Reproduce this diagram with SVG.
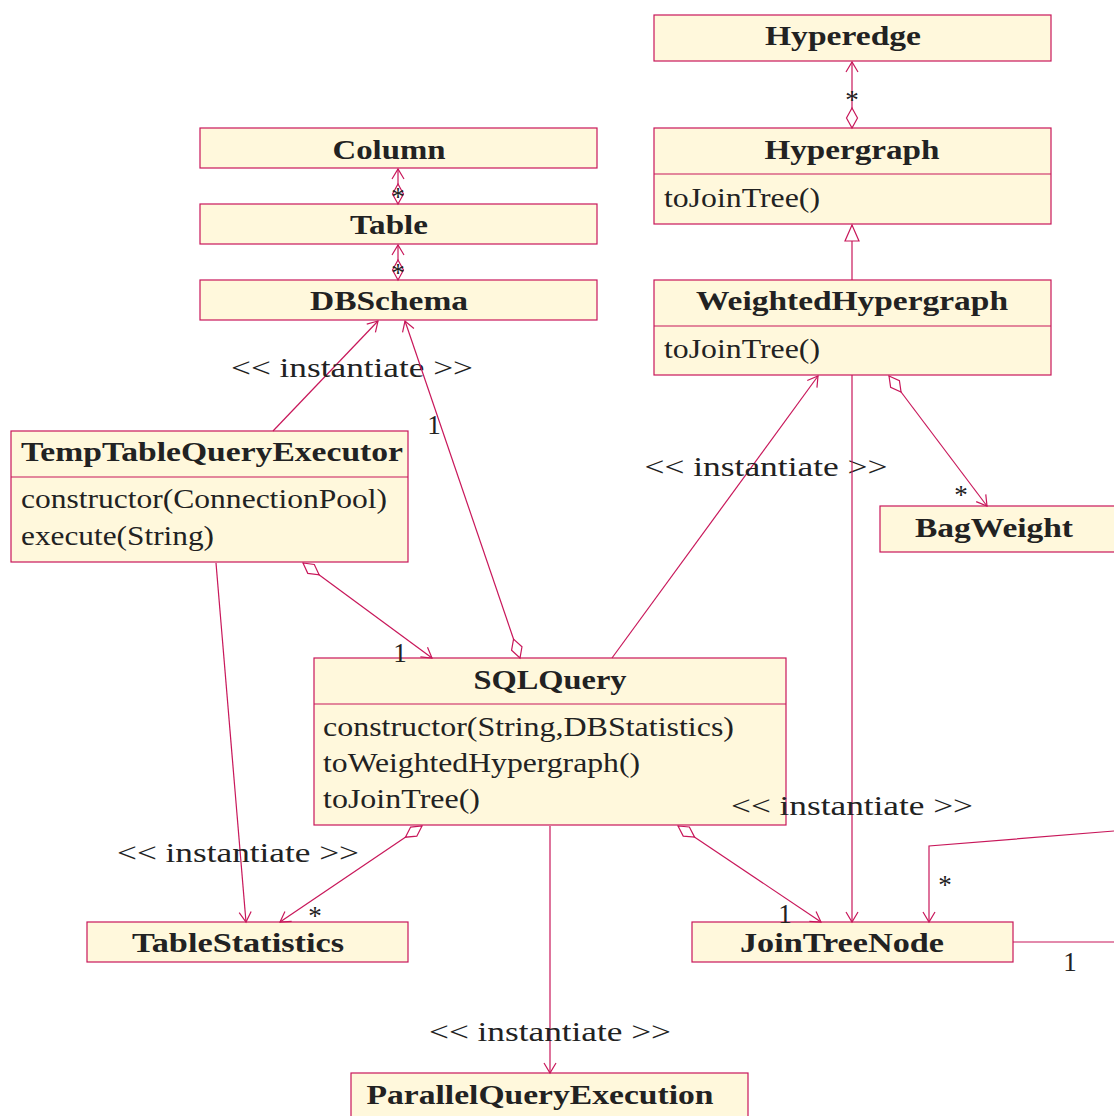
<svg xmlns="http://www.w3.org/2000/svg" width="1114" height="1116" viewBox="0 0 1114 1116">
  <style>
    .box { fill: #fff8dc; stroke: #c8175a; stroke-width: 1.2; }
    .sep { stroke: #c8175a; stroke-width: 1.2; }
    .name { font-family: "Liberation Serif", "DejaVu Serif", serif; font-weight: bold; font-size: 27px; fill: #222; }
    .op { font-family: "Liberation Serif", "DejaVu Serif", serif; font-size: 27px; fill: #222; }
    .lbl { font-family: "Liberation Serif", "DejaVu Serif", serif; font-size: 27px; fill: #222; }
    .edge { fill: none; stroke: #c8175a; stroke-width: 1.2; }
  </style>
  <defs>
    <marker id="open" markerUnits="userSpaceOnUse" markerWidth="24" markerHeight="24" viewBox="-12 -12 24 24" refX="0" refY="0" orient="auto">
      <path d="M-10,-6 L0,0 L-10,6" fill="none" stroke="#c8175a" stroke-width="1.2"/>
    </marker>
    <marker id="diamond" markerUnits="userSpaceOnUse" markerWidth="30" markerHeight="30" viewBox="-5 -15 30 30" refX="0" refY="0" orient="auto">
      <path d="M0,0 L10,-5.5 L20,0 L10,5.5 Z" fill="#fff" stroke="#c8175a" stroke-width="1.2"/>
    </marker>
    <marker id="triangle" markerUnits="userSpaceOnUse" markerWidth="30" markerHeight="30" viewBox="-20 -15 30 30" refX="0" refY="0" orient="auto">
      <path d="M0,0 L-16,-7 L-16,7 Z" fill="#fff" stroke="#c8175a" stroke-width="1.2"/>
    </marker>
  </defs>

  <!-- classes -->
  <g id="Hyperedge">
    <rect class="box" x="654" y="15" width="397" height="46"/>
    <text class="name" x="843" y="45" text-anchor="middle" textLength="156" lengthAdjust="spacingAndGlyphs">Hyperedge</text>
  </g>
  <g id="Hypergraph">
    <rect class="box" x="654" y="128" width="397" height="96"/>
    <line class="sep" x1="654" y1="174" x2="1051" y2="174"/>
    <text class="name" x="852" y="159" text-anchor="middle" textLength="175" lengthAdjust="spacingAndGlyphs">Hypergraph</text>
    <text class="op" x="664" y="207" textLength="156" lengthAdjust="spacingAndGlyphs">toJoinTree()</text>
  </g>
  <g id="WeightedHypergraph">
    <rect class="box" x="654" y="280" width="397" height="95"/>
    <line class="sep" x1="654" y1="326" x2="1051" y2="326"/>
    <text class="name" x="852" y="310" text-anchor="middle" textLength="312" lengthAdjust="spacingAndGlyphs">WeightedHypergraph</text>
    <text class="op" x="664" y="358" textLength="156" lengthAdjust="spacingAndGlyphs">toJoinTree()</text>
  </g>
  <g id="Column">
    <rect class="box" x="200" y="128" width="397" height="40"/>
    <text class="name" x="389" y="159" text-anchor="middle" textLength="113" lengthAdjust="spacingAndGlyphs">Column</text>
  </g>
  <g id="Table">
    <rect class="box" x="200" y="204" width="397" height="40"/>
    <text class="name" x="389" y="234" text-anchor="middle" textLength="78" lengthAdjust="spacingAndGlyphs">Table</text>
  </g>
  <g id="DBSchema">
    <rect class="box" x="200" y="280" width="397" height="40"/>
    <text class="name" x="389" y="310" text-anchor="middle" textLength="158" lengthAdjust="spacingAndGlyphs">DBSchema</text>
  </g>
  <g id="TempTableQueryExecutor">
    <rect class="box" x="11" y="431" width="397" height="131"/>
    <line class="sep" x1="11" y1="477" x2="408" y2="477"/>
    <text class="name" x="212" y="461" text-anchor="middle" textLength="382" lengthAdjust="spacingAndGlyphs">TempTableQueryExecutor</text>
    <text class="op" x="21" y="508" textLength="366" lengthAdjust="spacingAndGlyphs">constructor(ConnectionPool)</text>
    <text class="op" x="21" y="545" textLength="193" lengthAdjust="spacingAndGlyphs">execute(String)</text>
  </g>
  <g id="BagWeight">
    <rect class="box" x="880" y="506" width="260" height="46"/>
    <text class="name" x="994" y="537" text-anchor="middle" textLength="158" lengthAdjust="spacingAndGlyphs">BagWeight</text>
  </g>
  <g id="SQLQuery">
    <rect class="box" x="314" y="658" width="472" height="167"/>
    <line class="sep" x1="314" y1="704" x2="786" y2="704"/>
    <text class="name" x="550" y="689" text-anchor="middle" textLength="153" lengthAdjust="spacingAndGlyphs">SQLQuery</text>
    <text class="op" x="323" y="736" textLength="411" lengthAdjust="spacingAndGlyphs">constructor(String,DBStatistics)</text>
    <text class="op" x="323" y="772" textLength="317" lengthAdjust="spacingAndGlyphs">toWeightedHypergraph()</text>
    <text class="op" x="323" y="808" textLength="157" lengthAdjust="spacingAndGlyphs">toJoinTree()</text>
  </g>
  <g id="TableStatistics">
    <rect class="box" x="87" y="922" width="321" height="40"/>
    <text class="name" x="238" y="952" text-anchor="middle" textLength="212" lengthAdjust="spacingAndGlyphs">TableStatistics</text>
  </g>
  <g id="JoinTreeNode">
    <rect class="box" x="692" y="922" width="321" height="40"/>
    <text class="name" x="842" y="952" text-anchor="middle" textLength="204" lengthAdjust="spacingAndGlyphs">JoinTreeNode</text>
  </g>
  <g id="ParallelQueryExecution">
    <rect class="box" x="351" y="1073" width="397" height="60"/>
    <text class="name" x="540" y="1104" text-anchor="middle" textLength="347" lengthAdjust="spacingAndGlyphs">ParallelQueryExecution</text>
  </g>

  <!-- connectors, drawn over the class boxes -->
  <g id="connectors">
    <!-- Table aggregates Column -->
    <path class="edge" d="M398,204 L398,169" marker-start="url(#diamond)" marker-end="url(#open)"/>
    <text class="lbl" x="398" y="206" text-anchor="middle">*</text>
    <!-- DBSchema aggregates Table -->
    <path class="edge" d="M398,280 L398,245" marker-start="url(#diamond)" marker-end="url(#open)"/>
    <text class="lbl" x="398" y="282" text-anchor="middle">*</text>
    <!-- Hypergraph aggregates Hyperedge -->
    <path class="edge" d="M852,128 L852,62" marker-start="url(#diamond)" marker-end="url(#open)"/>
    <text class="lbl" x="852" y="109" text-anchor="middle">*</text>
    <!-- WeightedHypergraph extends Hypergraph -->
    <path class="edge" d="M852,280 L852,225" marker-end="url(#triangle)"/>
    <!-- WeightedHypergraph aggregates BagWeight -->
    <path class="edge" d="M889,376 L987,506" marker-start="url(#diamond)" marker-end="url(#open)"/>
    <text class="lbl" x="961" y="504" text-anchor="middle">*</text>
    <!-- TempTableQueryExecutor instantiates DBSchema -->
    <path class="edge" d="M273,431 L378,321" marker-end="url(#open)"/>
    <text class="lbl" x="352" y="377" text-anchor="middle" textLength="242" lengthAdjust="spacingAndGlyphs">&lt;&lt; instantiate &gt;&gt;</text>
    <!-- SQLQuery aggregates DBSchema -->
    <path class="edge" d="M520,658 L405,321" marker-start="url(#diamond)" marker-end="url(#open)"/>
    <text class="lbl" x="434" y="434" text-anchor="middle">1</text>
    <!-- TempTableQueryExecutor aggregates SQLQuery -->
    <path class="edge" d="M303,563 L432,658" marker-start="url(#diamond)" marker-end="url(#open)"/>
    <text class="lbl" x="400" y="662" text-anchor="middle">1</text>
    <!-- SQLQuery instantiates WeightedHypergraph -->
    <path class="edge" d="M612,658 L818,376" marker-end="url(#open)"/>
    <text class="lbl" x="766" y="476" text-anchor="middle" textLength="243" lengthAdjust="spacingAndGlyphs">&lt;&lt; instantiate &gt;&gt;</text>
    <!-- WeightedHypergraph instantiates JoinTreeNode -->
    <path class="edge" d="M852,375 L852,922" marker-end="url(#open)"/>
    <text class="lbl" x="852" y="815" text-anchor="middle" textLength="242" lengthAdjust="spacingAndGlyphs">&lt;&lt; instantiate &gt;&gt;</text>
    <!-- TempTableQueryExecutor instantiates TableStatistics -->
    <path class="edge" d="M216,563 L246,922" marker-end="url(#open)"/>
    <text class="lbl" x="238" y="862" text-anchor="middle" textLength="242" lengthAdjust="spacingAndGlyphs">&lt;&lt; instantiate &gt;&gt;</text>
    <!-- SQLQuery aggregates TableStatistics -->
    <path class="edge" d="M422,826 L280,922" marker-start="url(#diamond)" marker-end="url(#open)"/>
    <text class="lbl" x="315" y="925" text-anchor="middle">*</text>
    <!-- SQLQuery aggregates JoinTreeNode -->
    <path class="edge" d="M678,826 L821,922" marker-start="url(#diamond)" marker-end="url(#open)"/>
    <text class="lbl" x="785" y="923" text-anchor="middle">1</text>
    <!-- SQLQuery instantiates ParallelQueryExecution -->
    <path class="edge" d="M550,826 L550,1073" marker-end="url(#open)"/>
    <text class="lbl" x="550" y="1041" text-anchor="middle" textLength="242" lengthAdjust="spacingAndGlyphs">&lt;&lt; instantiate &gt;&gt;</text>
    <!-- JoinTreeNode children -->
    <path class="edge" d="M1114,831 L929,846 L929,922" marker-end="url(#open)"/>
    <text class="lbl" x="945" y="894" text-anchor="middle">*</text>
    <path class="edge" d="M1013,942 L1114,942"/>
    <text class="lbl" x="1070" y="971" text-anchor="middle">1</text>
  </g>
</svg>
